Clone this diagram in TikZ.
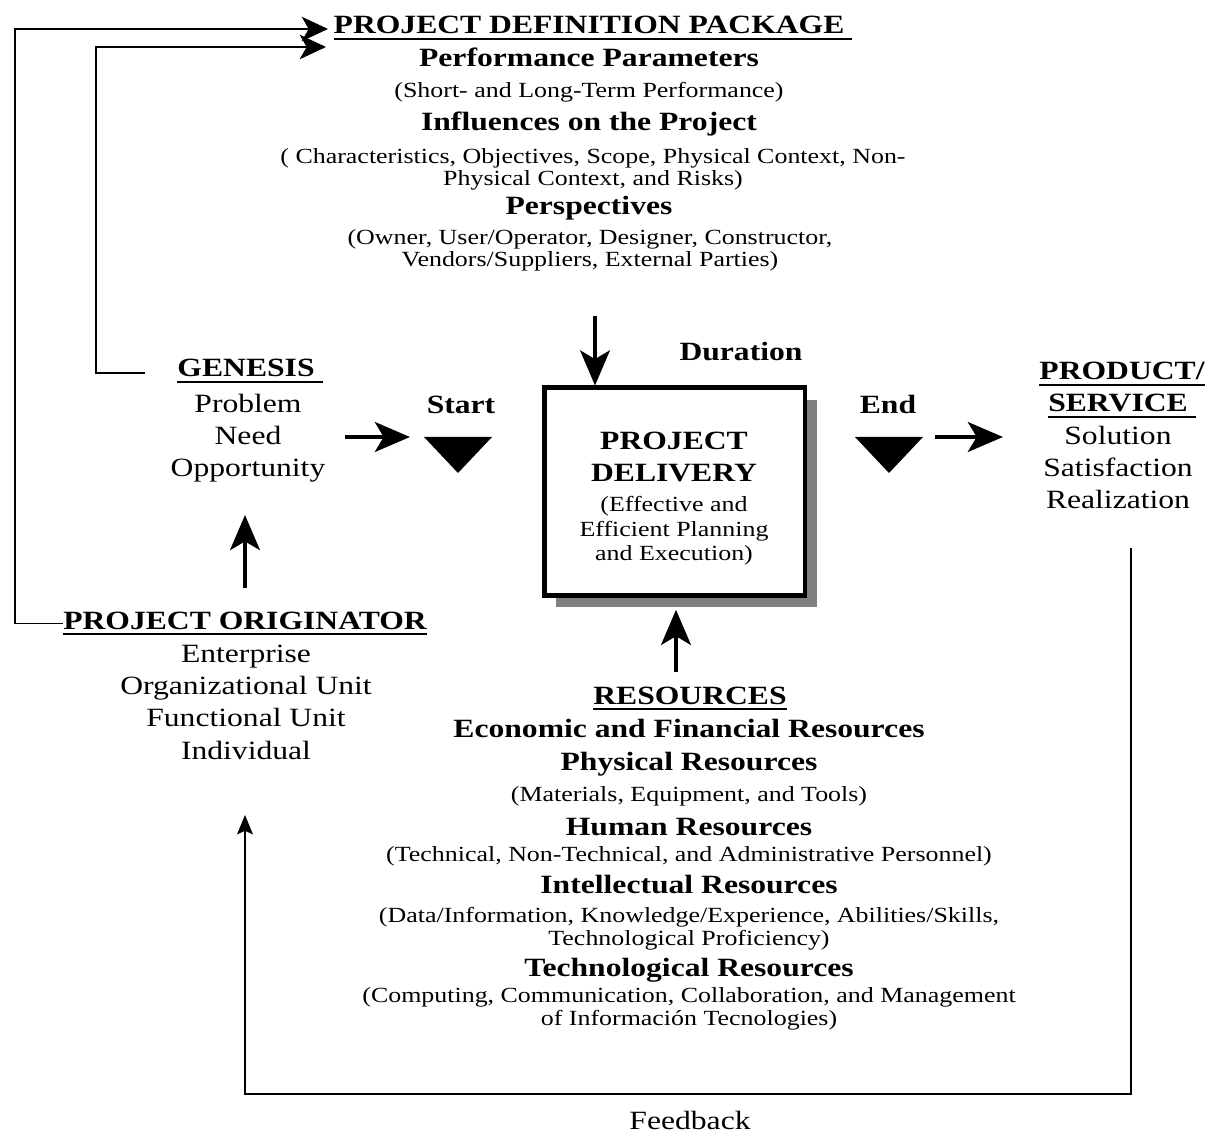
\documentclass[tikz,border=0pt]{standalone}
\usepackage{fontspec}
\setmainfont{Liberation Serif}[FakeStretch=1.2]
\usetikzlibrary{arrows.meta,shadows}

\newcommand{\bigsz}{\fontsize{15}{18.4}\selectfont}
\newcommand{\smallsz}{\fontsize{12.3}{13}\selectfont}
\newcommand{\ulhead}[1]{\setbox0\hbox{#1}\rlap{\rule[-3.6pt]{\wd0}{1.3pt}}\box0}

\begin{document}
\begin{tikzpicture}[x=0.02cm, y=-0.02cm,
	txt/.style={inner sep=0pt, anchor=base, align=center, font=\bigsz},
	hd/.style={txt, font=\bigsz\bfseries},
	sm/.style={txt, font=\smallsz},
	bigarrow/.style={line width=2.2pt, -{Stealth[length=20pt,width=17pt,inset=5pt]}},
	loopline/.style={line width=0.75pt, -{Stealth[length=15pt,width=14pt,inset=4pt]}},
	fbline/.style={line width=0.8pt, -{Stealth[length=11pt,width=9pt,inset=2pt]}}]

	\useasboundingbox (0,0) rectangle (1211,1138);

	% Project definition package (multi-line nodes sit on their last baseline)
	\node[hd] (defHead) at (593,34) {\ulhead{PROJECT DEFINITION PACKAGE\ }};
	\node[hd] (perfHead) at (589,67) {Performance Parameters};
	\node[sm] (perfTxt) at (589,98) {(Short- and Long-Term Performance)};
	\node[hd] (inflHead) at (589,131) {Influences on the Project};
	\node[sm] (inflTxt) at (593,186) {( Characteristics, Objectives, Scope, Physical Context, Non-\\Physical Context, and Risks)};
	\node[hd] (perspHead) at (589,215) {Perspectives};
	\node[sm] (perspTxt) at (590,267) {(Owner, User/Operator, Designer, Constructor,\\Vendors/Suppliers, External Parties)};

	% Genesis and originator
	\node[hd] (genHead) at (250,377) {\ulhead{GENESIS\ }};
	\node[txt] (genTxt) at (248,477) {Problem\\Need\\Opportunity};
	\node[hd] (origHead) at (245,629) {\ulhead{PROJECT ORIGINATOR}};
	\node[txt] (origTxt) at (246,759) {Enterprise\\Organizational Unit\\Functional Unit\\Individual};

	% Product / service
	\node[hd] (prodHead) at (1122,412) {\ulhead{PRODUCT/}\\\ulhead{SERVICE\ }};
	\node[txt] (prodTxt) at (1118,509) {Solution\\Satisfaction\\Realization};

	% Delivery
	\node[hd] (durLabel) at (741,361) {Duration};
	\node[hd] (startLabel) at (461,414) {Start};
	\node[hd] (endLabel) at (888,414) {End};
	\node[draw, line width=2.8pt, fill=white, inner sep=0pt,
		minimum width=148.5pt, minimum height=117.9pt,
		drop shadow={shadow xshift=7pt, shadow yshift=-7pt, fill=black!50, opacity=1}] (box) at (674.5,491.5) {};
	\node[hd, font=\fontsize{15}{18.7}\selectfont\bfseries] (delivHead) at (674,482) {PROJECT\\DELIVERY};
	\node[sm, font=\fontsize{12.3}{14.2}\selectfont] (delivTxt) at (674,561) {(Effective and\\Efficient Planning\\and Execution)};

	% Resources
	\node[hd] (resHead) at (690,704) {\ulhead{RESOURCES}};
	\node[hd] (econHead) at (689,737) {Economic and Financial Resources};
	\node[hd] (physHead) at (689,770) {Physical Resources};
	\node[sm] (physTxt) at (689,801) {(Materials, Equipment, and Tools)};
	\node[hd] (humHead) at (689,835) {Human Resources};
	\node[sm] (humTxt) at (689,861) {(Technical, Non-Technical, and Administrative Personnel)};
	\node[hd] (intHead) at (689,893) {Intellectual Resources};
	\node[sm] (intTxt) at (689,945) {(Data/Information, Knowledge/Experience, Abilities/Skills,\\Technological Proficiency)};
	\node[hd] (techHead) at (689,976) {Technological Resources};
	\node[sm] (techTxt) at (689,1025) {(Computing, Communication, Collaboration, and Management\\of Información Tecnologies)};
	\node[txt] (fbLabel) at (690,1129) {Feedback};

	% Milestones
	\coordinate (startTri) at (458,437);
	\coordinate (endTri) at (889,437);
	\fill (startTri) ++(-34,0) -- ++(68,0) -- ++(-34,36) -- cycle;
	\fill (endTri) ++(-34,0) -- ++(68,0) -- ++(-34,36) -- cycle;

	% Flow arrows
	\coordinate (genOut) at (345,437);
	\coordinate (startIn) at (410,437);
	\coordinate (endOut) at (935,437);
	\coordinate (prodIn) at (1003,437);
	\coordinate (origUp) at (245,588);
	\coordinate (genUp) at (245,515);
	\coordinate (perspDown) at (595,316);
	\coordinate (resUp) at (676,672);
	\draw[bigarrow] (genOut) -- (startIn);
	\draw[bigarrow] (endOut) -- (prodIn);
	\draw[bigarrow] (origUp) -- (genUp);
	\draw[bigarrow, line width=1.8pt] (perspDown) -- (perspDown |- box.north);
	\draw[bigarrow, shorten >=7pt] (resUp) -- (resUp |- box.south);

	% Loops back to the definition package
	\coordinate (loopOuter) at (15,29);
	\coordinate (defIn1) at (328,29);
	\coordinate (genLoop) at (145,373);
	\coordinate (loopInner) at (96,47);
	\coordinate (defIn2) at (326,47);
	\draw[loopline] (origHead.west) -| (loopOuter) -- (defIn1);
	\draw[loopline] (genLoop) -| (loopInner) -- (defIn2);

	% Feedback
	\coordinate (fbStart) at (1131,548);
	\coordinate (fbTurn) at (245,1094);
	\coordinate (fbEnd) at (245,815);
	\draw[fbline] (fbStart) |- (fbTurn) -- (fbEnd);
\end{tikzpicture}
\end{document}
